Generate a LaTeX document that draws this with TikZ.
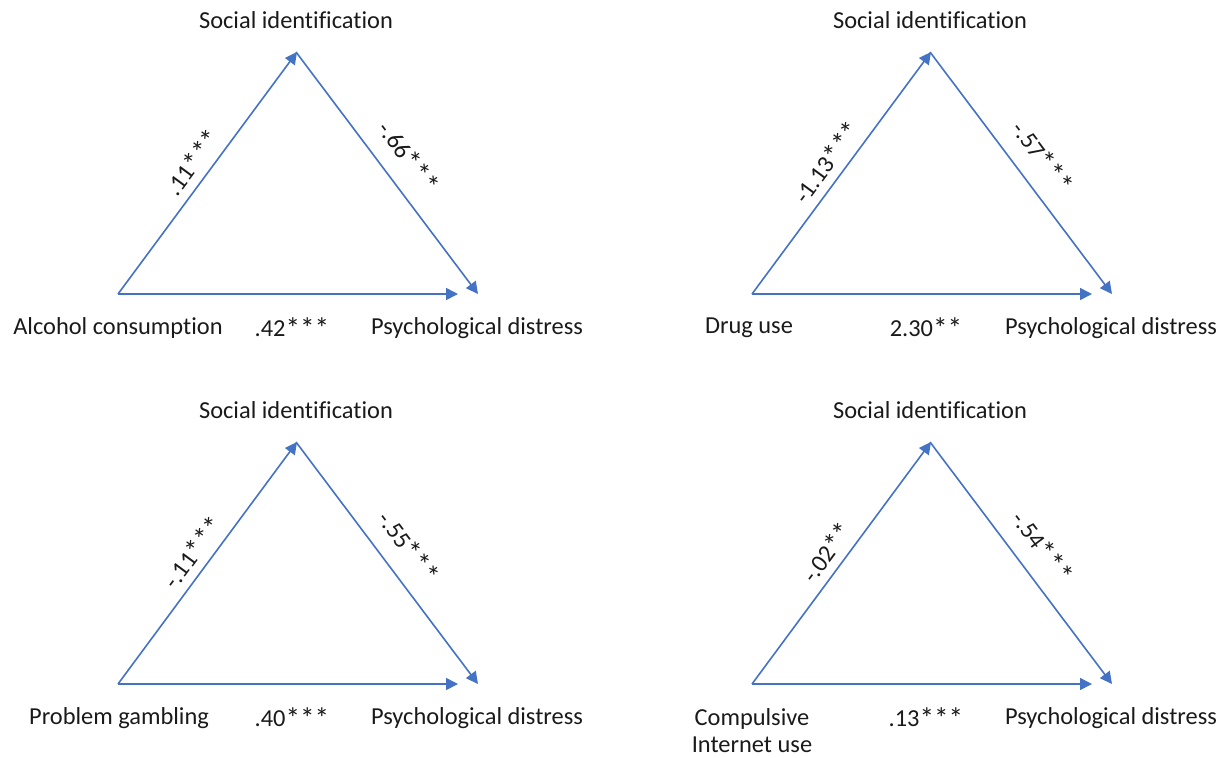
\documentclass[tikz,border=0pt]{standalone}
\usepackage{graphicx}
\usepackage{fontspec}
\setmainfont[Ligatures=NoCommon]{Carlito}
\usetikzlibrary{arrows.meta}
\definecolor{arrowblue}{HTML}{4472C4}
\definecolor{textgray}{HTML}{1A1A1A}
\newcommand\sig{\raisebox{-0.8pt}{\scalebox{1.2}{*}}}
\tikzset{
  link/.style={draw=arrowblue, line width=0.8pt, -{Triangle[length=6pt,width=6pt]}},
  lbl/.style={font=\fontsize{12.2}{13.5}\selectfont, inner sep=0pt, text=textgray},
  coef/.style={lbl, sloped, midway},
}
\newcommand\drawpanel[9]{%
  \begin{scope}[shift={(#2,#3)}]
    \coordinate (#1L) at (118,294);
    \coordinate (#1A) at (297,52);
    \coordinate (#1T) at (296,52);
    \coordinate (#1R) at (478,294);
    \coordinate (#1B) at (458,294);
    \node[lbl] (#1si) at (296,20) {Social identification};
    \node[lbl, align=center] (#1src) at (#5,#6) {#4};
    \node[lbl] (#1pd) at (477,328) {Psychological distress};
    \node[lbl] (#1cb) at (292,328) {#9};
    \draw[link] (#1L) -- (#1A) node[coef, yshift=9pt] (#1cl) {#7};
    \draw[link] (#1T) -- (#1R) node[coef, yshift=13.5pt] (#1cr) {#8};
    \draw[link] (#1L) -- (#1B);
  \end{scope}}
\begin{document}
\begin{tikzpicture}[x=0.5pt, y=-0.5pt]
  \useasboundingbox (0,0) rectangle (1226,757);
  \drawpanel{p1}{0}{0}{Alcohol consumption}{118}{328}{.11\sig\sig\sig}{-.66\sig\sig\sig}{.42\sig\sig\sig}
  \drawpanel{p2}{634}{0}{Drug use}{115}{328}{-1.13\sig\sig\sig}{-.57\sig\sig\sig}{2.30\sig\sig}
  \drawpanel{p3}{0}{390}{Problem gambling}{119}{328}{-.11\sig\sig\sig}{-.55\sig\sig\sig}{.40\sig\sig\sig}
  \drawpanel{p4}{634}{390}{Compulsive\\Internet use}{118}{341}{-.02\sig\sig}{-.54\sig\sig\sig}{.13\sig\sig\sig}
\end{tikzpicture}
\end{document}
